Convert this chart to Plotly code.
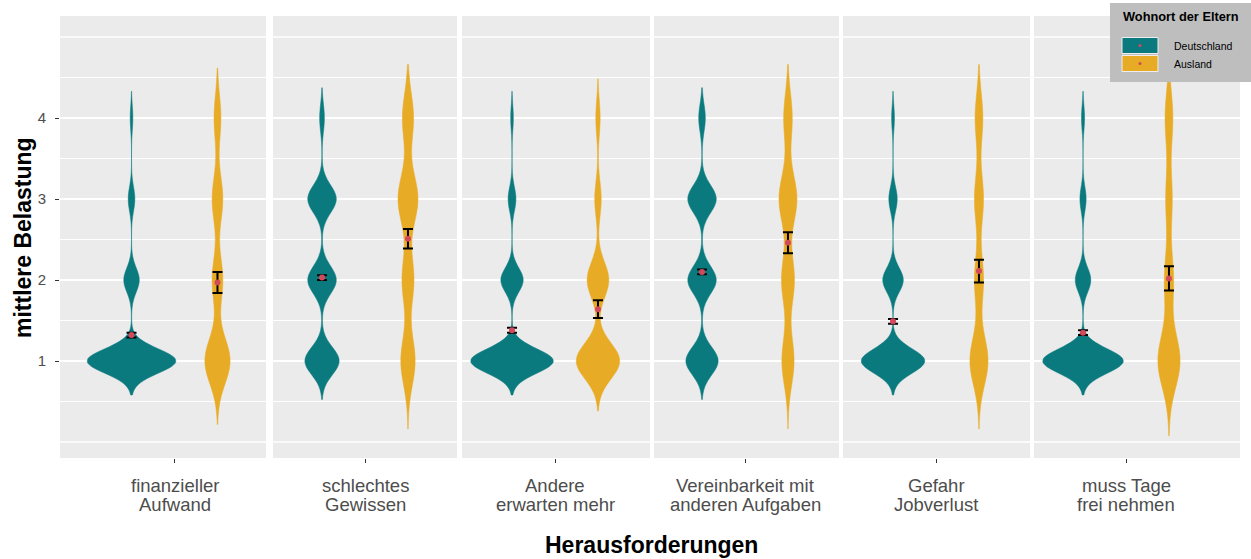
import numpy as np
import plotly.graph_objects as go

# --- data ---
CATEGORIES = [
    ["finanzieller", "Aufwand"],
    ["schlechtes", "Gewissen"],
    ["Andere", "erwarten mehr"],
    ["Vereinbarkeit mit", "anderen Aufgaben"],
    ["Gefahr", "Jobverlust"],
    ["muss Tage", "frei nehmen"],
]
LEVELS = [1, 2, 3, 4]
# answer counts per level (1..4), estimated from the violin shapes
COUNTS_DE = [
    [400, 70, 30, 12],
    [180, 150, 150, 25],
    [370, 100, 35, 12],
    [170, 150, 150, 35],
    [340, 110, 45, 15],
    [390, 75, 30, 15],
]
COUNTS_AUS = [
    [33, 14, 14, 9],
    [18, 15, 25, 14],
    [40, 20, 6, 4],
    [17, 18, 25, 12],
    [28, 14, 14, 12],
    [34, 14, 10, 12],
]
MEAN_DE = [1.32, 2.03, 1.38, 2.10, 1.49, 1.35]
SE_DE = [0.03, 0.03, 0.03, 0.03, 0.03, 0.03]
MEAN_AUS = [1.97, 2.51, 1.64, 2.46, 2.11, 2.02]
SE_AUS = [0.13, 0.12, 0.11, 0.13, 0.14, 0.15]

# --- styling ---
TEAL = "#0A7A7F"
GOLD = "#E8AB26"
RED = "#D1495B"
FONT = "Liberation Sans, Arial, sans-serif"
TICK_COL = "#4D4D4D"

W, H = 1251, 559
PANELS_PX = [(60, 266), (273, 457), (462, 650), (654, 839), (843, 1030), (1034, 1240)]
CENTERS_PX = [174.5, 365, 555, 745, 936, 1126]
PX_PER_UNIT = 191.0
DODGE = 0.225
WIDTH_DE_PX = [88, 34, 82, 32, 63, 80]
WIDTH_AUS_PX = [25, 20, 43, 18, 18, 22]
BW_DE = [0.15, 0.17, 0.15, 0.17, 0.15, 0.15]
BW_AUS = [0.28, 0.30, 0.22, 0.30, 0.30, 0.33]
SPAN_LO, SPAN_HI = 2.8, 2.2

Y_RANGE = [1 - (458 - 361) / 81, 4 + (118 - 16) / 81]
Y_DOMAIN = [1 - 458 / H, 1 - 16 / H]


def px(x, y):
    return x / W, 1 - y / H


fig = go.Figure()
layout = {}
shapes = []
annotations = []

for i, lines in enumerate(CATEGORIES):
    n = "" if i == 0 else str(i + 1)
    xa, ya = "x" + n, "y" + n
    left, right = PANELS_PX[i]
    c = CENTERS_PX[i]

    for pos, counts, mean, se, col, wpx, bw in [
        (-DODGE, COUNTS_DE[i], MEAN_DE[i], SE_DE[i], TEAL, WIDTH_DE_PX[i], BW_DE[i]),
        (DODGE, COUNTS_AUS[i], MEAN_AUS[i], SE_AUS[i], GOLD, WIDTH_AUS_PX[i], BW_AUS[i]),
    ]:
        fig.add_trace(go.Violin(
            x0=pos, y=np.repeat(LEVELS, counts), xaxis=xa, yaxis=ya,
            width=wpx / PX_PER_UNIT, scalemode="width",
            fillcolor=col, line=dict(color=col, width=0.5), opacity=1,
            bandwidth=bw, spanmode="manual", span=[1 - SPAN_LO * bw, 4 + SPAN_HI * bw],
            points=False, box_visible=False, meanline_visible=False,
            showlegend=False, hoverinfo="skip",
        ))
        fig.add_trace(go.Scatter(
            x=[pos], y=[mean], xaxis=xa, yaxis=ya, mode="markers",
            marker=dict(color=RED, size=6),
            error_y=dict(type="data", array=[se], color="black", thickness=2, width=5),
            showlegend=False, hoverinfo="skip",
        ))

    layout["xaxis" + n] = dict(
        domain=[left / W, right / W], type="linear",
        range=[(left - c) / PX_PER_UNIT, (right - c) / PX_PER_UNIT],
        tickvals=[0], ticktext=[""], ticks="outside", ticklen=4, tickwidth=1.2,
        tickcolor="#333333", showgrid=False, zeroline=False, showline=False,
        anchor=ya, fixedrange=True,
    )
    # two-line category label, tight ggplot-like line spacing
    for txt, yc in zip(lines, (485, 504)):
        annotations.append(dict(text=txt, x=c / W, y=1 - yc / H, xref="paper", yref="paper",
                                xanchor="center", yanchor="middle", showarrow=False,
                                font=dict(family=FONT, size=18.5, color=TICK_COL)))

    ycfg = dict(
        domain=Y_DOMAIN, range=Y_RANGE, tickvals=[1, 2, 3, 4], showgrid=True,
        gridcolor="white", gridwidth=1.6, zeroline=False, showline=False,
        minor=dict(tickvals=[0.5, 1.5, 2.5, 3.5, 4.5], showgrid=True,
                   gridcolor="white", gridwidth=0.8, ticks=""),
        anchor=xa, fixedrange=True,
    )
    if i == 0:
        ycfg.update(ticks="outside", ticklen=4, tickwidth=1.2, tickcolor="#333333",
                    ticklabelstandoff=6,
                    tickfont=dict(family=FONT, size=15, color=TICK_COL))
    else:
        ycfg.update(showticklabels=False, ticks="", matches="y")
    layout["yaxis" + n] = ycfg

    for yv in (0, 5):
        shapes.append(dict(type="line", xref=xa + " domain", yref=ya, x0=0, x1=1,
                           y0=yv, y1=yv, line=dict(color="white", width=1.6), layer="below"))

# legend drawn by hand (grey box, colour keys with red dot)
lx0, ly0 = px(1110, 3)
lx1, ly1 = px(1251, 82)
shapes.append(dict(type="rect", xref="paper", yref="paper", x0=lx0, x1=lx1, y0=ly1, y1=ly0,
                   fillcolor="#BEBEBE", line=dict(width=0), layer="above"))
annotations.append(dict(text="<b>Wohnort der Eltern</b>", x=1121 / W, y=1 - 17 / H,
                        xref="paper", yref="paper", xanchor="left", yanchor="middle",
                        showarrow=False, font=dict(family=FONT, size=12.8, color="black")))
for label, col, yc in [("Deutschland", TEAL, 45.5), ("Ausland", GOLD, 63.5)]:
    kx0, ky0 = px(1122, yc - 8)
    kx1, ky1 = px(1158, yc + 8)
    shapes.append(dict(type="rect", xref="paper", yref="paper", x0=kx0, x1=kx1, y0=ky1, y1=ky0,
                       fillcolor=col, line=dict(color="#EEEEEE", width=1), layer="above"))
    dx0, dy0 = px(1138.5, yc - 1.5)
    dx1, dy1 = px(1141.5, yc + 1.5)
    shapes.append(dict(type="circle", xref="paper", yref="paper", x0=dx0, x1=dx1, y0=dy1, y1=dy0,
                       fillcolor=RED, line=dict(width=0), layer="above"))
    annotations.append(dict(text=label, x=1172 / W, y=1 - yc / H, xref="paper", yref="paper",
                            xanchor="left", yanchor="middle", showarrow=False,
                            font=dict(family=FONT, size=10.5, color="black")))

annotations.append(dict(text="<b>mittlere Belastung</b>", x=23 / W, y=1 - 238 / H,
                        xref="paper", yref="paper", textangle=-90, showarrow=False,
                        xanchor="center", yanchor="middle",
                        font=dict(family=FONT, size=23, color="black")))
annotations.append(dict(text="<b>Herausforderungen</b>", x=651 / W, y=1 - 545 / H,
                        xref="paper", yref="paper", showarrow=False,
                        xanchor="center", yanchor="middle",
                        font=dict(family=FONT, size=23, color="black")))

fig.update_layout(
    **layout,
    width=W, height=H,
    margin=dict(l=0, r=0, t=0, b=0),
    paper_bgcolor="white", plot_bgcolor="#EBEBEB",
    shapes=shapes, annotations=annotations,
    showlegend=False,
)

# page margin off so the figure sits at the window's top-left corner
fig.write_html("out.html", config={"displayModeBar": False},
               post_script="document.body.style.margin='0';")
